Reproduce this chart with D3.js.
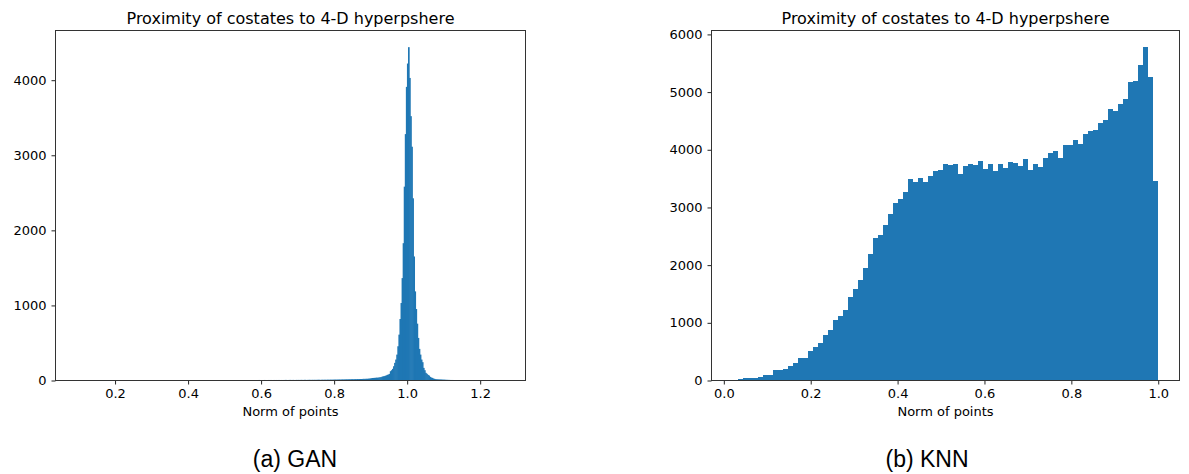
<!DOCTYPE html>
<html>
<head>
<meta charset="utf-8">
<script src="https://cdn.jsdelivr.net/npm/d3@7"></script>
<style>
body { margin: 0; background: #fff; }
svg text { font-family: "DejaVu Sans", sans-serif; fill: #000; }
svg text.caption { font-family: "Liberation Sans", Arial, sans-serif; }
</style>
</head>
<body>
<div id="chart"></div>
<script>
// GAN: 400 equal bins between these two norms
var ganRange = [0.0954, 1.2656];
var ganCounts = [
  1,2,1,2,2,1,2,3,2,2,1,2,3,2,2,3,2,2,3,2,
  2,3,2,2,3,2,3,2,3,3,2,3,2,3,3,2,3,3,2,3,
  3,2,3,3,4,2,3,3,3,2,4,3,3,3,2,4,3,3,4,3,
  3,4,3,3,3,4,2,4,3,4,3,3,4,3,4,3,4,3,3,4,
  4,3,4,3,4,4,3,4,3,4,4,3,4,4,3,5,4,3,4,4,
  4,5,3,4,4,5,4,4,3,5,4,4,5,4,4,5,3,5,4,5,
  4,5,4,5,5,4,5,4,5,5,4,5,5,4,6,5,4,5,5,5,
  5,4,6,5,5,5,6,4,5,6,5,5,6,5,5,6,5,6,5,5,
  6,5,6,5,6,6,5,6,6,5,7,6,5,6,6,7,6,6,5,7,
  6,7,6,6,7,6,7,6,7,7,6,7,6,7,7,8,6,7,7,8,
  7,7,8,6,7,8,7,8,7,8,8,7,8,9,7,8,8,9,8,8,
  9,8,9,8,9,9,10,8,9,10,9,10,10,9,11,10,10,11,10,11,
  11,12,11,12,12,13,12,13,14,13,14,14,15,14,16,15,16,17,16,17,
  18,17,19,18,19,20,20,21,22,21,23,22,24,25,27,
  30,33,34,35,36,38,37,40,42,45,
  50,55,58,62,68,
  75,80,88,124,137,155,190,235,279,345,
  456,611,819,1032,1364,1829,2582,3282,3911,4222,
  4440,4030,3521,3114,2427,1652,1187,952,757,567,
  421,345,279,244,168,137,102,89,75,66,
  49,40,35,27,22,18,
  16,15,14,13,13,12,11,11,10,9,
  9,8,8,7,7,7,6,6,6,5,
  5,5,5,4,4,4,4,4,3,3,
  3,3,3,3,3,2,2,3,2,2,
  2,2,2,2,2,1,2,2,1,2,
  1,1,2,1,1,1,2,1,1,1,
  1,1,1,1
];

// KNN: 85 equal bins
var knnRange = [0.0206, 1.0];
var knnCounts = [
  17,20,35,35,52,69,87,104,179,190,
  208,260,300,398,398,519,588,646,796,882,
  1055,1125,1228,1442,1592,1747,1955,2197,2474,2526,
  2699,2889,3080,3149,3270,3495,3443,3512,3443,3547,
  3633,3651,3754,3737,3754,3581,3720,3754,3737,3806,
  3668,3754,3633,3754,3685,3789,3772,3720,3841,3651,
  3754,3702,3858,3945,3979,3858,4083,4083,4170,4100,
  4273,4325,4343,4464,4516,4706,4671,4792,4879,5173,
  5190,5467,5779,5260,3460
];

var ganXTicks = [0.2, 0.4, 0.6, 0.8, 1.0, 1.2];
var ganYTicks = [0, 1000, 2000, 3000, 4000];
var knnXTicks = [0.0, 0.2, 0.4, 0.6, 0.8, 1.0];
var knnYTicks = [0, 1000, 2000, 3000, 4000, 5000, 6000];

var chartTitle = "Proximity of costates to 4-D hyperpshere";
var xLabel = "Norm of points";
var captions = ["(a) GAN", "(b) KNN"];

var svgWidth = 1189;
var svgHeight = 474;

var svg = d3.select("#chart")
  .append("svg")
  .attr("width", svgWidth)
  .attr("height", svgHeight);

svg.append("rect")
  .attr("width", svgWidth)
  .attr("height", svgHeight)
  .attr("fill", "#fff");

function drawHist(box, range, counts, xTicks, yTicks, caption, captionX, crisp) {
  var binW = (range[1] - range[0]) / counts.length;
  var bins = counts.map(function(c, i) {
    return {x0: range[0] + i * binW, x1: range[0] + (i + 1) * binW, n: c};
  });
  // matplotlib's 5% margin on x, ylim at 1.05 * max
  var pad = 0.05 * (range[1] - range[0]);
  var x = d3.scaleLinear()
    .domain([range[0] - pad, range[1] + pad])
    .range([0, box.width]);
  var y = d3.scaleLinear()
    .domain([0, d3.max(counts) * 1.05])
    .range([box.height, 0]);

  var g = svg.append("g")
    .attr("transform", `translate(${box.left}, ${box.top})`);

  // wide bars: crisp edges; narrow bars: antialiased with a small overlap
  // so the sub-pixel tail stays visible and there are no seams
  var overlap = crisp ? 0 : 0.6;
  g.append("g")
    .attr("shape-rendering", crisp ? "crispEdges" : "auto")
    .selectAll("rect.bar")
    .data(bins)
    .enter()
    .append("rect")
    .attr("class", "bar")
    .attr("x", d => x(d.x0))
    .attr("width", (d, i) => x(d.x1) - x(d.x0) + (i < bins.length - 1 ? overlap : 0))
    .attr("y", d => y(d.n))
    .attr("height", d => y(0) - y(d.n))
    .attr("fill", "#1f77b4");

  var bottomAxis = d3.axisBottom(x)
    .tickValues(xTicks)
    .tickFormat(d3.format(".1f"))
    .tickSizeInner(4)
    .tickSizeOuter(0)
    .tickPadding(4);
  var leftAxis = d3.axisLeft(y)
    .tickValues(yTicks)
    .tickFormat(d3.format("d"))
    .tickSizeInner(4)
    .tickSizeOuter(0)
    .tickPadding(5);

  var xAxis = g.append("g")
    .attr("transform", `translate(0, ${box.height})`)
    .call(bottomAxis);
  var yAxis = g.append("g")
    .call(leftAxis);

  [xAxis, yAxis].forEach(function(a) {
    a.select(".domain").remove();
    a.attr("font-family", null).attr("font-size", null);
    a.selectAll("line").attr("stroke", "#222");
    a.selectAll("text").style("font-size", "13px");
  });

  // spines
  g.append("rect")
    .attr("width", box.width)
    .attr("height", box.height)
    .attr("fill", "none")
    .attr("stroke", "#333")
    .attr("stroke-width", 1);

  g.append("text")
    .attr("x", box.width / 2)
    .attr("y", -7)
    .attr("text-anchor", "middle")
    .style("font-size", "16px")
    .text(chartTitle);

  g.append("text")
    .attr("x", box.width / 2)
    .attr("y", box.height + 35.5)
    .attr("text-anchor", "middle")
    .style("font-size", "13px")
    .text(xLabel);

  svg.append("text")
    .attr("class", "caption")
    .attr("x", captionX)
    .attr("y", 467)
    .attr("text-anchor", "middle")
    .style("font-size", "23px")
    .text(caption);
}

drawHist({left: 55.5, top: 30.5, width: 470, height: 350},
  ganRange, ganCounts, ganXTicks, ganYTicks, captions[0], 295, false);
drawHist({left: 711.5, top: 30.5, width: 468, height: 350},
  knnRange, knnCounts, knnXTicks, knnYTicks, captions[1], 927, true);
</script>
</body>
</html>
